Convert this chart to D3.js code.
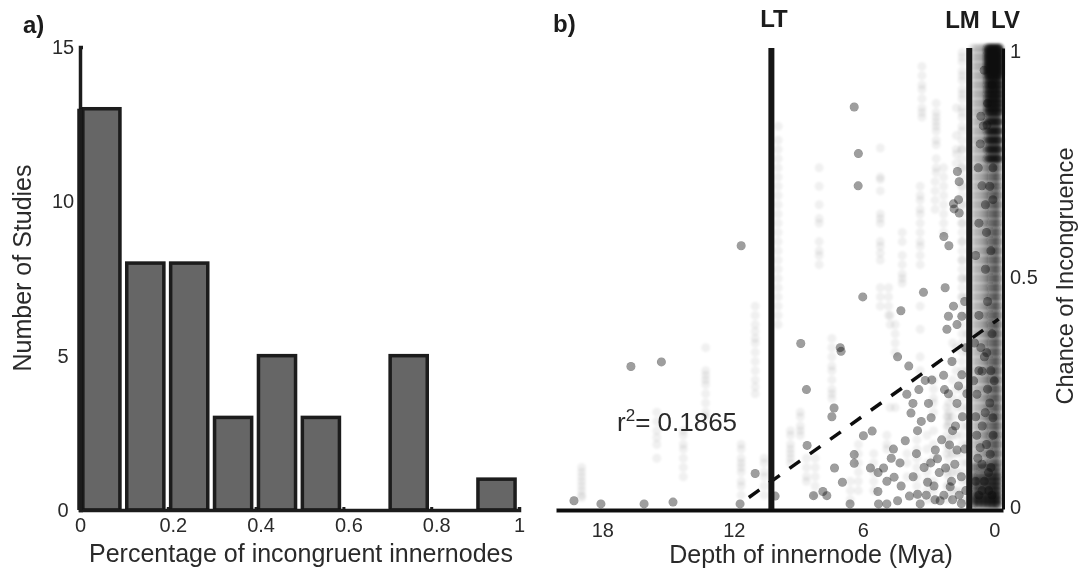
<!DOCTYPE html>
<html>
<script src='https://d3js.org/d3.v7.min.js'></script>
<style>
html, body {margin: 0; background: white;}
svg {display: block;}
text {font-family: "Liberation Sans", Arial, sans-serif; fill: #2a2a2a;}
.ticks text {font-size: 20px;}
.label {font-size: 25px;}
.bold {font-size: 24px; font-weight: bold; fill: #1a1a1a;}
</style>
<body>
<svg width=1080 height=571></svg>
<script>

// panel a
var binStart = [0, 0.1, 0.2, 0.3, 0.4, 0.5, 0.6, 0.7, 0.8, 0.9];
var studies = [13, 8, 8, 3, 5, 3, 0, 5, 0, 1];
var histXTicks = [0, 0.2, 0.4, 0.6, 0.8, 1];
var histYTicks = [0, 5, 10, 15];

// panel b: single dark dots [depth, chance]
var darkDots = [
  [6.39,.872],[6.2,.771],[6.21,.701],[1.68,.732],[1.6,.71],[1.63,.671],[1.86,.662],[1.83,.651],[1.6,.642],
  [2.3,.591],[2.07,.571],[.46,.952],[.61,.852],[.5,.831],[.64,.792],[.73,.74],[.56,.701],[.06,.671],[.06,.74],[.33,.833],
  [16.58,.309],[15.19,.319],[10.91,.077],[8.83,.359],[8.57,.259],[8.54,.138],[19.18,.018],[17.95,.011],[15.98,.011],
  [14.66,.015],[11.6,.011],[10,.028],[11.55,.571],[6.99,.342],
  [6,.46],[4.26,.43],[3.23,.47],[2.24,.48],[7.03,.35],[4.41,.33],[3.9,.31],[7.31,.219],[7.41,.2],[5.97,.159],[5.57,.169],
  [6.39,.118],[6.39,.099],[7.29,.089],[6.93,.058],[5.65,.089],[5.3,.079],[5.05,.089],[4.57,.069],[5.31,.038],[3.87,.028],
  [3.04,.058],[2.01,.048],[3.5,.17],[3.33,.19],[2.88,.198],[3,.229],[3.71,.229],[3.8,.208],[3.44,.259],[3.99,.249],
  [3.15,.279],[2.31,.29],[1.93,.32],[2.27,.259],[1.7,.229],[1.77,.18],[1.48,.291],[1.63,.267],[2.09,.25],[2.69,.128],
  [2.59,.109],[2.22,.089],[2.51,.079],[1.8,.097],[1.7,.128],[2.04,.139],[4.06,.148],[4.6,.13],[4.7,.11],[7.82,.038],
  [7.64,.029],[8.25,.029],[2.16,.39],[2.09,.418],[1.86,.44],[1.48,.418],[1.7,.4],[.61,.35],[.34,.339],[.56,.299],[.94,.278],
  [.79,.249],[0,.278],[.41,.209],[.06,.198],[.64,.133],[.56,.097],[.18,.119],[.26,.079],[.56,.04],[4.41,.018],[2.47,.018],
  [3.5,.032],[6.58,.011],[5.28,.011],[4.9,.011],[3.38,.011],[1.5,.012],[1.9,.02],[3.1,.03],[2.7,.02],
  [.3,.45],[.7,.42],[.1,.38],[.9,.36],[.45,.33],[.15,.3],[.7,.3],[.3,.26],[.85,.2],[.2,.23],[.55,.18],[.05,.16],[.8,.16],
  [.35,.14],[.75,.11],[.15,.09],[.45,.06],[.85,.06],[.25,.04],[.7,.03],[.1,.03],[.35,.6],[.7,.62],[.15,.56],[.85,.55],
  [.4,.52],[.1,.92],[.3,.88],[.2,.7],[.4,.66],
  [1.3,.35],[1.45,.2],[1.35,.13],[1.5,.07],[1.9,.17],[1.25,.25],[2.9,.1],[2.4,.15],[1.95,.06],[2.75,.05],[3.2,.09],
  [3.7,.07],[4.25,.05],[4.3,.1],[3.55,.12],[4.9,.06],[1.35,.45],[1.3,.04],[2.3,.03],[1.6,.03],[2.85,.28]
];

// panel b: faint vertical runs [depth, [chances]]
var faintRuns = [
  [18.83,[.09,.08,.07,.06,.05,.04,.03,.025]],
  [15.4,[.21,.19,.17,.155,.14,.11]],
  [14.19,[.17,.16,.14,.13,.11,.09,.07]],
  [13.17,[.35,.3,.29,.28,.27,.25,.23,.21,.2]],
  [11.55,[.14,.13,.11,.1,.09,.08,.06,.05,.03]],
  [10.91,[.44,.42,.4,.385,.37,.36,.34,.32,.3,.28,.265,.25]],
  [10.5,[.11,.1,.08,.07,.05,.03]],
  [9.86,[.83,.8,.78,.76,.74,.72,.7,.68,.66,.64,.62,.6,.58,.56,.54,.52,.5,.48,.46,.44,.42,.4]],
  [9.3,[.17,.16,.14,.13,.12,.11,.1]],
  [8.85,[.21,.2,.18,.17,.16]],
  [8.57,[.11,.09,.07,.06]],
  [7.41,[.37,.35,.33,.31,.3,.28,.26,.25,.24]],
  [7.99,[.74,.7,.66,.63,.62,.58,.56,.55,.53]],
  [5.2,[.783,.72,.715,.69,.64,.63,.62,.58,.57,.555,.54,.48,.46,.44]],
  [4.2,[.6,.58,.55,.53,.51,.5,.49]],
  [3.3,[.96,.94,.92,.91,.89,.87,.86,.85]],
  [2.65,[.88,.86,.85,.84,.83,.82,.8,.79,.76,.74,.73]],
  [3.38,[.7,.68,.67,.65,.64,.62,.6,.58,.57,.55,.53,.44,.39,.33,.3]],
  [2.31,[.74,.72,.7,.68,.66,.64,.62,.6]],
  [2.7,[.71,.69,.67,.65]],
  [1.73,[.87,.81,.78,.77,.75,.35,.3,.26,.22,.16,.12,.08,.04]],
  [1.47,[.99,.97,.95,.93,.91,.89,.87,.85,.83,.8,.78,.76,.74,.72,.7,.68,.66,.64,.62,.6,.58,.56,.54,.52,.5,.48,.46,.44,.4,.36,.32,.28,.24,.2,.16,.12,.08,.04]],
  [1.47,[.98,.94,.9,.86,.82,.78,.74,.7,.66,.62,.58,.54,.5,.46,.42,.38,.34,.3,.26,.22,.18,.14,.1,.06,.02]],
  [4.82,[.48,.46,.44,.42]],
  [4.75,[.42,.4,.22]],
  [4.52,[.4,.38,.36,.34,.22]],
  [2.08,[.23,.21,.2,.19,.18,.15,.13,.11,.09,.07,.05,.03]],
  [2.77,[.28,.26,.24,.23,.21,.17,.14,.11,.06,.04,.02]],
  [3.53,[.15,.13,.11,.09,.07,.05,.03]],
  [4.9,[.16,.14,.13]],
  [6.2,[.14,.12,.1,.08,.06,.04]],
  [6.57,[.06,.04,.02]],
  [8.17,[.11,.09,.07,.05,.03]],
  [5.5,[.12,.1,.08,.06,.04]],
  [3.98,[.12,.1,.07]],
  [2.16,[.22,.2,.18,.16,.14,.12,.08,.05,.02]],
  [3.07,[.16,.13,.1,.08,.06,.04,.02]],
  [1.25,[.5,.46,.42,.38,.34,.3,.26,.22,.18,.14,.1,.06,.02]],
  [1.9,[.36,.32,.28,.24,.2,.16,.12,.08,.04]]
];

// panel b: the crowded band next to the present
var bandDepths = [.98, .86, .74, .62, .5, .38, .26, .14, .02, -.1, -.2];
var bandWeights = [.08, .08, .09, .1, .12, .15, .19, .23, .25, .27, .27];
var bandChance = [1,.98,.96,.94,.92,.9,.88,.86,.84,.82,.8,.78,.76,.74,.72,.7,.68,.66,.64,.62,.6,.58,.56,.54,.52,
  .5,.48,.46,.44,.42,.4,.38,.36,.34,.32,.3,.28,.26,.24,.22,.2,.18,.16,.14,.12,.1,.08,.07,.06,.05,.04,.03,.02,.01];
var bandMid = [.99,.97,.95,.93,.91,.89,.87,.85,.83,.81,.79,.77,.75,.73,.71,.69,.67,.65,.63,.61,.59,.57,.55,.53,.51,
  .49,.47,.45,.43,.41,.39,.37,.35,.33,.31,.29,.27,.25,.23,.21,.19,.17,.15,.13,.11,.09];
var bandDeep = [.3, .2, .12, .04, -.05, -.15, -.25];
var bandDeepChance = [1,.995,.99,.985,.98,.975,.97,.965,.96,.955,.95,.945,.94,.93,.92,.91,.9,.89,.88,.87,.86,.84,.82,.8,.78,.76];
var bandLow = [.9, .7, .5, .3, .1, -.1];
var bandLowChance = [.09,.07,.06,.05,.04,.03,.025,.02,.015,.01];

var fitLine = [[11.2, .025], [-.2, .412]];
var cutoffs = [{name: "LT", depth: 10.17}, {name: "LM", depth: 1.14}];
var depthTicks = [18, 12, 6, 0];
var chanceTicks = [0, 0.5, 1];

var svg = d3.select("svg");
var defs = svg.append("defs");
defs.append("filter").attr("id", "soft").append("feGaussianBlur").attr("stdDeviation", 0.55);
defs.append("filter").attr("id", "softer").append("feGaussianBlur").attr("stdDeviation", 0.9);
var root = svg.append("g").attr("filter", "url(#soft)");

// ---- panel a
var xHist = d3.scaleLinear().domain([0, 1]).range([80, 519]);
var yHist = d3.scaleLinear().domain([0, 15]).range([510, 47]);

root.append("g").selectAll("rect")
    .data(binStart.filter(function(d, i) {return studies[i] > 0;}))
  .enter().append("rect")
    .attr("x", function(d) {return xHist(d + 0.0065);})
    .attr("width", function() {return xHist(0.0845) - xHist(0);})
    .attr("y", function(d) {return yHist(studies[binStart.indexOf(d)]);})
    .attr("height", function(d) {return yHist(0) - yHist(studies[binStart.indexOf(d)]);})
    .attr("fill", "#666")
    .attr("stroke", "#1a1a1a")
    .attr("stroke-width", 3.5);

var histX = root.append("g")
    .attr("class", "ticks")
    .attr("transform", "translate(0,510)")
    .call(d3.axisBottom(xHist).tickValues(histXTicks).tickFormat(d3.format("~g")).tickSize(-3).tickPadding(8));
histX.select(".domain").attr("stroke", "#1a1a1a").attr("stroke-width", 3.5);
histX.selectAll("line").attr("stroke", "#1a1a1a").attr("stroke-width", 3);
histX.selectAll("text").attr("dx", function(d) {return d > 0 && d < 1 ? 5 : 0;});

var histY = root.append("g")
    .attr("class", "ticks")
    .attr("transform", "translate(80,0)")
    .call(d3.axisLeft(yHist).tickValues(histYTicks).tickSize(-3).tickPadding(6));
histY.select(".domain").attr("stroke", "#1a1a1a").attr("stroke-width", 3.5);
histY.selectAll("line").attr("stroke", "#1a1a1a").attr("stroke-width", 3);
histY.selectAll("text").attr("text-anchor", "middle").attr("x", -17);

// first bar sits tight on the axis, so the axis reads heavier there
root.append("line")
    .attr("x1", 80).attr("x2", 80)
    .attr("y1", yHist(studies[0])).attr("y2", yHist(0))
    .attr("stroke", "#1a1a1a").attr("stroke-width", 5.5);

root.append("text").attr("class", "label")
    .attr("x", 301).attr("y", 562).attr("text-anchor", "middle")
    .text("Percentage of incongruent innernodes");
root.append("text").attr("class", "label")
    .attr("transform", "translate(31,268) rotate(-90)").attr("text-anchor", "middle")
    .text("Number of Studies");
root.append("text").attr("class", "bold").attr("x", 23).attr("y", 33).text("a)");

// ---- panel b
var xDepth = d3.scaleLinear().domain([20, -0.4]).range([556, 1003]);
var yChance = d3.scaleLinear().domain([0, 1]).range([509, 48]);

var plot = root.append("g");
var faintLayer = plot.append("g").attr("filter", "url(#softer)");
var darkLayer = plot.append("g");

function dots(layer, list, alpha) {
  layer.append("g").selectAll("circle")
      .data(list)
    .enter().append("circle")
      .attr("cx", function(d) {return xDepth(d[0]);})
      .attr("cy", function(d) {return yChance(d[1]);})
      .attr("r", 4.5)
      .attr("fill", "#111")
      .attr("fill-opacity", alpha);
}

faintRuns.forEach(function(run) {
  dots(faintLayer, run[1].map(function(c) {return [run[0], c];}), 0.06);
});
bandDepths.forEach(function(depth, i) {
  dots(faintLayer, bandChance.map(function(c) {return [depth, c];}), bandWeights[i]);
  dots(faintLayer, bandMid.map(function(c) {return [depth, c];}), bandWeights[i] * 0.5);
});
bandDeep.forEach(function(depth) {
  dots(faintLayer, bandDeepChance.map(function(c) {return [depth, c];}), 0.4);
});
bandLow.forEach(function(depth) {
  dots(faintLayer, bandLowChance.map(function(c) {return [depth, c];}), 0.3);
});
dots(darkLayer, darkDots, 0.42);

var fit = d3.line()
    .x(function(d) {return xDepth(d[0]);})
    .y(function(d) {return yChance(d[1]);});
root.append("path")
    .datum(fitLine)
    .attr("d", fit)
    .attr("fill", "none")
    .attr("stroke", "#111")
    .attr("stroke-width", 3.5)
    .attr("stroke-dasharray", "13 12");

root.append("g").selectAll("line")
    .data(cutoffs)
  .enter().append("line")
    .attr("x1", function(d) {return xDepth(d.depth);})
    .attr("x2", function(d) {return xDepth(d.depth);})
    .attr("y1", yChance(1)).attr("y2", yChance(0))
    .attr("stroke", "#151515").attr("stroke-width", 6);

var depthAxis = root.append("g")
    .attr("class", "ticks")
    .attr("transform", "translate(0,510)")
    .call(d3.axisBottom(xDepth).tickValues(depthTicks).tickSize(0).tickPadding(13));
depthAxis.select(".domain").attr("stroke", "#111").attr("stroke-width", 4);
depthAxis.selectAll("text").attr("dx", function(d) {return d > 6 ? 2.5 : 0;});

var chanceAxis = root.append("g")
    .attr("class", "ticks")
    .attr("transform", "translate(1003,0)")
    .call(d3.axisRight(yChance).tickValues(chanceTicks).tickFormat(d3.format("~g")).tickSize(0).tickPadding(7));
chanceAxis.select(".domain").attr("stroke", "#111").attr("stroke-width", 3);
chanceAxis.selectAll("text").attr("dy", function(d) {return d == 1 ? "0.45em" : d == 0 ? "0.22em" : "0.26em";});

root.append("text").attr("class", "label")
    .attr("x", 811).attr("y", 563).attr("text-anchor", "middle")
    .text("Depth of innernode (Mya)");
root.append("text").attr("class", "label")
    .attr("transform", "translate(1073,276) rotate(-90)").attr("text-anchor", "middle")
    .attr("font-size", 23.6).style("font-size", "23.6px")
    .text("Chance of Incongruence");

var r2 = root.append("text").attr("class", "label").attr("x", 617).attr("y", 431).style("font-size", "26px");
r2.append("tspan").text("r");
r2.append("tspan").attr("dy", -10).style("font-size", "17px").text("2");
r2.append("tspan").attr("dy", 10).text("= 0.1865");

root.append("text").attr("class", "bold").attr("x", 553).attr("y", 32).text("b)");
root.append("text").attr("class", "bold").attr("x", 774).attr("y", 27).attr("text-anchor", "middle").text("LT");
root.append("text").attr("class", "bold").attr("x", 962.5).attr("y", 28).attr("text-anchor", "middle").text("LM");
root.append("text").attr("class", "bold").attr("x", 1005.5).attr("y", 28).attr("text-anchor", "middle").text("LV");

</script>
</body>
</html>
